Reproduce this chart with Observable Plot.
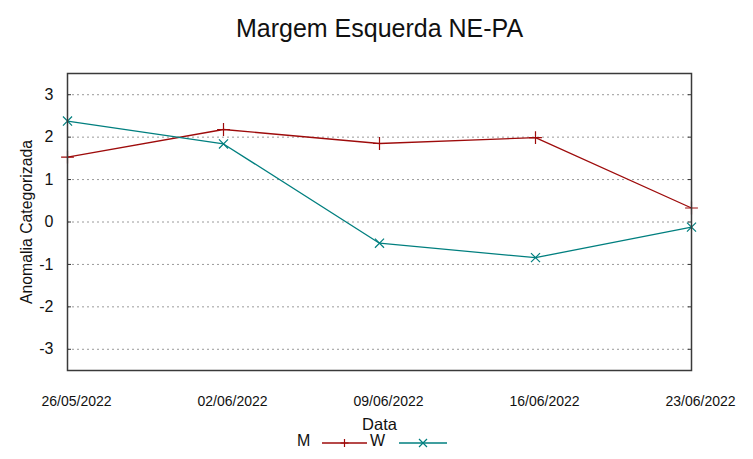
<!DOCTYPE html>
<html>
<head>
<meta charset="utf-8">
<script src="https://cdn.jsdelivr.net/npm/d3@7"></script>
<script src="https://cdn.jsdelivr.net/npm/@observablehq/plot@0.6"></script>
<style>
  body { margin: 0; background: white; font-family: "Liberation Sans", Arial, sans-serif; }
  #chart svg { display: block; }
</style>
</head>
<body>
<div id="chart"></div>
<script>
const dates = ["2022-05-26", "2022-06-02", "2022-06-09", "2022-06-16", "2022-06-23"];
const valuesM = [1.53, 2.18, 1.85, 1.99, 0.33];
const valuesW = [2.38, 1.84, -0.50, -0.84, -0.12];
const yTicks = [-3, -2, -1, 0, 1, 2, 3];
const seriesNames = ["M", "W"];
const title = "Margem Esquerda NE-PA";
const xLabel = "Data";
const yLabel = "Anomalia Categorizada";

const red = "#9e0b0b";
const teal = "#007f7f";

const dateObjs = dates.map(d => new Date(d + "T00:00:00Z"));
const rows = dateObjs.map((d, i) => ({date: d, M: valuesM[i], W: valuesW[i]}));

const chart = Plot.plot({
  width: 753,
  height: 432,
  marginLeft: 67,
  marginRight: 62,
  marginTop: 73,
  marginBottom: 62,
  style: {fontFamily: "'Liberation Sans', Arial, sans-serif", background: "white", color: "#111"},
  x: {type: "utc", domain: [dateObjs[0], dateObjs[dateObjs.length - 1]]},
  y: {domain: [-3.5, 3.5]},
  marks: [
    Plot.gridY(yTicks, {stroke: "#9a9a9a", strokeOpacity: 1, strokeDasharray: "2,3", strokeWidth: 1}),
    Plot.axisY(yTicks, {anchor: "left", tickSize: 0, tickPadding: 14, fontSize: 16, label: null, tickFormat: d => String(d)}),
    Plot.axisY(yTicks, {anchor: "left", tickSize: -4, tickFormat: () => "", label: null, stroke: "#333"}),
    Plot.axisY(yTicks, {anchor: "right", tickSize: -4, tickFormat: () => "", label: null, stroke: "#333"}),
    Plot.axisX(dateObjs, {tickSize: 0, tickPadding: 26, dx: 9, tickFormat: d3.utcFormat("%d/%m/%Y"), fontSize: 14, label: null}),
    Plot.line(rows, {x: "date", y: "M", stroke: red, strokeWidth: 1.3}),
    Plot.line(rows, {x: "date", y: "W", stroke: teal, strokeWidth: 1.3}),
    Plot.dot(rows, {x: "date", y: "M", symbol: "plus", r: 4.2, stroke: red, strokeWidth: 1.2}),
    Plot.dot(rows, {x: "date", y: "W", symbol: "times", r: 4.2, stroke: teal, strokeWidth: 1.2}),
    Plot.frame({stroke: "#3a3a3a", strokeWidth: 1.5}),
    Plot.text([title], {text: d => d, frameAnchor: "top", dy: -45, lineAnchor: "middle", fontSize: 25, fill: "#111"}),
    Plot.text([xLabel], {text: d => d, frameAnchor: "bottom", dy: 59, lineAnchor: "bottom", fontSize: 16.5, fill: "#111"}),
    Plot.text([yLabel], {text: d => d, frameAnchor: "left", dx: -41, rotate: -90, textAnchor: "middle", lineAnchor: "middle", fontSize: 15.8, fill: "#111"})
  ]
});
document.getElementById("chart").appendChild(chart);

// legend below the chart
const ns = "http://www.w3.org/2000/svg";
const leg = document.createElementNS(ns, "svg");
leg.setAttribute("width", 753);
leg.setAttribute("height", 27);
leg.style.display = "block";
const items = [
  {name: seriesNames[0], color: red, tx: 297, x1: 322, x2: 367, sym: "plus"},
  {name: seriesNames[1], color: teal, tx: 370, x1: 399, x2: 447, sym: "times"}
];
for (const it of items) {
  const t = document.createElementNS(ns, "text");
  t.setAttribute("x", it.tx);
  t.setAttribute("y", 14);
  t.setAttribute("font-size", 16);
  t.setAttribute("font-family", "'Liberation Sans', Arial, sans-serif");
  t.setAttribute("fill", "#111");
  t.textContent = it.name;
  leg.appendChild(t);
  const l = document.createElementNS(ns, "line");
  l.setAttribute("x1", it.x1); l.setAttribute("x2", it.x2);
  l.setAttribute("y1", 11); l.setAttribute("y2", 11);
  l.setAttribute("stroke", it.color); l.setAttribute("stroke-width", 1.3);
  leg.appendChild(l);
  const cx = (it.x1 + it.x2) / 2, s = 4;
  const p = document.createElementNS(ns, "path");
  p.setAttribute("d", it.sym === "plus"
    ? `M${cx - s},11H${cx + s}M${cx},${11 - s}V${11 + s}`
    : `M${cx - s},${11 - s}L${cx + s},${11 + s}M${cx - s},${11 + s}L${cx + s},${11 - s}`);
  p.setAttribute("stroke", it.color); p.setAttribute("stroke-width", 1.2); p.setAttribute("fill", "none");
  leg.appendChild(p);
}
document.body.appendChild(leg);
</script>
</body>
</html>
